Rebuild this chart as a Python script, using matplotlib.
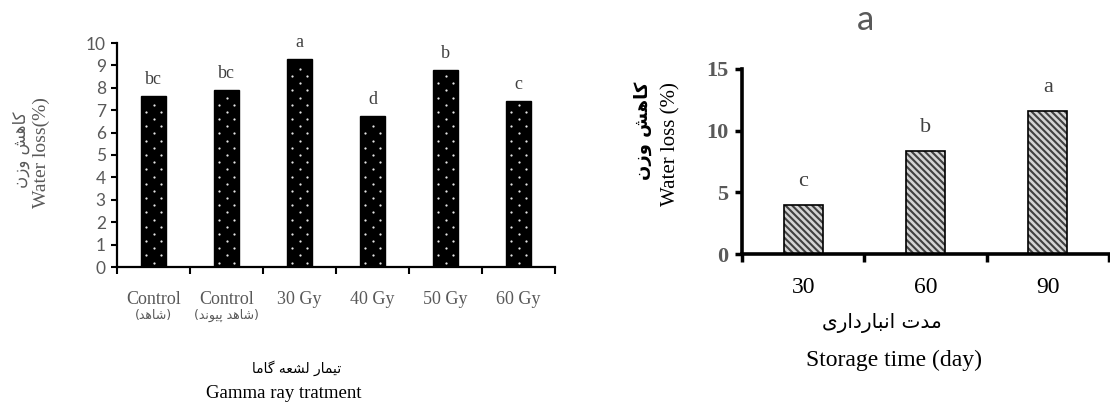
import matplotlib
matplotlib.use("Agg")
import matplotlib.pyplot as plt
import numpy as np

# --- data -------------------------------------------------------------
gamma_labels = ["Control", "Control", "30 Gy", "40 Gy", "50 Gy", "60 Gy"]
gamma_sub = ["(شاهد)", "(شاهد پیوند)", "", "", "", ""]
gamma_loss = [7.65, 7.9, 9.3, 6.75, 8.8, 7.4]
gamma_letters = ["bc", "bc", "a", "d", "b", "c"]

storage_days = ["30", "60", "90"]
storage_loss = [4.0, 8.35, 11.6]
storage_letters = ["c", "b", "a"]

# --- persian shaping (matplotlib has no arabic shaping) ---------------
# isolated, final, initial, medial ; None => letter does not join forward
FORMS = {
    "ا": ("\uFE8D", "\uFE8E", None, None),
    "ب": ("\uFE8F", "\uFE90", "\uFE91", "\uFE92"),
    "پ": ("\uFB56", "\uFB57", "\uFB58", "\uFB59"),
    "ت": ("\uFE95", "\uFE96", "\uFE97", "\uFE98"),
    "د": ("\uFEA9", "\uFEAA", None, None),
    "ر": ("\uFEAD", "\uFEAE", None, None),
    "ز": ("\uFEAF", "\uFEB0", None, None),
    "ش": ("\uFEB5", "\uFEB6", "\uFEB7", "\uFEB8"),
    "ع": ("\uFEC9", "\uFECA", "\uFECB", "\uFECC"),
    "ک": ("\uFB8E", "\uFB8F", "\uFB90", "\uFB91"),
    "گ": ("\uFB92", "\uFB93", "\uFB94", "\uFB95"),
    "ل": ("\uFEDD", "\uFEDE", "\uFEDF", "\uFEE0"),
    "م": ("\uFEE1", "\uFEE2", "\uFEE3", "\uFEE4"),
    "ن": ("\uFEE5", "\uFEE6", "\uFEE7", "\uFEE8"),
    "ه": ("\uFEE9", "\uFEEA", "\uFEEB", "\uFEEC"),
    "و": ("\uFEED", "\uFEEE", None, None),
    "ی": ("\uFBFC", "\uFBFD", "\uFBFE", "\uFBFF"),
}
MIRROR = {"(": ")", ")": "("}


def fa(text):
    out = []
    for i, ch in enumerate(text):
        if ch not in FORMS:
            out.append(MIRROR.get(ch, ch))
            continue
        prev = text[i - 1] if i > 0 else ""
        nxt = text[i + 1] if i + 1 < len(text) else ""
        jp = prev in FORMS and FORMS[prev][2] is not None
        jn = nxt in FORMS and FORMS[ch][2] is not None
        iso, fin, ini, med = FORMS[ch]
        if jp and jn:
            out.append(med)
        elif jp:
            out.append(fin)
        elif jn:
            out.append(ini)
        else:
            out.append(iso)
    return "".join(reversed(out))


SERIF = ["Liberation Serif", "DejaVu Sans"]
SANS = ["Lato", "DejaVu Sans"]
FA = ["DejaVu Sans"]
GRAY = "#595959"

W, H = 1110, 409
fig = plt.figure(figsize=(W / 100, H / 100), dpi=100)


def px(x, y):
    return x / W, 1 - y / H


# --- left panel: gamma ray treatment ---------------------------------
ax1 = fig.add_axes([117 / W, 1 - 267 / H, 438 / W, 224 / H])
x1 = list(range(len(gamma_loss)))
bw1 = 0.33
ax1.bar(x1, gamma_loss, width=bw1, color="black", edgecolor="black",
        linewidth=1)

# white dot texture inside each bar (staggered rows)
for xi, v in zip(x1, gamma_loss):
    rows = np.arange(0.2, v - 0.15, 0.32)[::-1]
    dx, dy = [], []
    for k, yy in enumerate(rows):
        offs = [0.0] if k % 2 == 0 else [-0.3 * bw1, 0.3 * bw1]
        for o in offs:
            dx.append(xi + o)
            dy.append(yy)
    ax1.scatter(dx, dy, s=2.6, color="#e6e6e6", linewidths=0, zorder=3)

for xi, v, t in zip(x1, gamma_loss, gamma_letters):
    ax1.text(xi, v + 0.35, t, ha="center", va="bottom", family=SERIF,
             fontsize=13, color="#404040")

ax1.set_xlim(-0.5, len(gamma_loss) - 0.5)
ax1.set_ylim(0, 10)
ax1.set_yticks(range(0, 11))
ax1.set_xticks([i - 0.5 for i in range(len(gamma_loss) + 1)])
ax1.set_xticklabels([])
ax1.tick_params(axis="y", labelsize=12.5, labelcolor=GRAY, length=4,
                width=1.5, pad=4, direction="out")
ax1.tick_params(axis="x", length=5, width=1.5, direction="out")
for lab in ax1.get_yticklabels():
    lab.set_family(SANS)
for s in ["top", "right"]:
    ax1.spines[s].set_visible(False)
for s in ["left", "bottom"]:
    ax1.spines[s].set_linewidth(1.6)

for xi, lab, sub in zip(x1, gamma_labels, gamma_sub):
    ax1.text(xi, -1.45, lab, ha="center", va="center", family=SERIF,
             fontsize=13, color=GRAY)
    if sub:
        inner = fa(sub.strip("()"))
        ax1.text(xi, -2.15, "(" + inner + ")", ha="center", va="center",
                 family=FA, fontsize=9, color=GRAY)

fig.text(*px(297, 368), fa("تیمار لشعه گاما"), ha="center", va="center",
         family=FA, fontsize=10, color="black")
fig.text(*px(284, 393), "Gamma ray tratment", ha="center", va="center",
         family=SERIF, fontsize=13.5, color="black")
fig.text(*px(21, 150), fa("کاهش وزن"), ha="center", va="center", rotation=90,
         family=FA, fontsize=12, color=GRAY)
fig.text(*px(41, 153), "Water loss(%)", ha="center", va="center", rotation=90,
         family=SERIF, fontsize=14, color=GRAY)

# --- right panel: storage time ---------------------------------------
ax2 = fig.add_axes([742 / W, 1 - 254 / H, 367 / W, 185 / H])
x2 = list(range(len(storage_loss)))
plt.rcParams["hatch.linewidth"] = 1.5
ax2.bar(x2, storage_loss, width=0.32, color="#d4d4d4", edgecolor="#404040",
        hatch="\\" * 5, linewidth=0)
ax2.bar(x2, storage_loss, width=0.32, fill=False, edgecolor="black",
        linewidth=1.2)
for xi, v, t in zip(x2, storage_loss, storage_letters):
    ax2.text(xi, v + 1.1, t, ha="center", va="bottom", family=SERIF,
             fontsize=16, color="#404040")

ax2.set_xlim(-0.5, len(storage_loss) - 0.5)
ax2.set_ylim(0, 15)
ax2.set_yticks([0, 5, 10, 15])
ax2.set_xticks([i - 0.5 for i in range(len(storage_loss) + 1)])
ax2.set_xticklabels([])
ax2.tick_params(axis="y", labelsize=16, labelcolor=GRAY, length=5, width=2.5,
                pad=5, direction="out")
ax2.tick_params(axis="x", length=6, width=2.5, direction="out")
for lab in ax2.get_yticklabels():
    lab.set_family(SERIF)
    lab.set_fontweight("bold")
for s in ["top", "right"]:
    ax2.spines[s].set_visible(False)
for s in ["left", "bottom"]:
    ax2.spines[s].set_linewidth(2.6)

for xi, lab in zip(x2, storage_days):
    ax2.text(xi, -2.7, lab, ha="center", va="center", family=SERIF,
             fontsize=17, color="black")

fig.text(*px(882, 323), fa("مدت انبارداری"), ha="center", va="center",
         family=FA, fontsize=14.5, color="black")
fig.text(*px(894, 360), "Storage time (day)", ha="center", va="center",
         family=SERIF, fontsize=17, color="black")
fig.text(*px(643, 131), fa("کاهش وزن"), ha="center", va="center", rotation=90,
         family=FA, fontsize=13, fontweight="bold", color="black")
fig.text(*px(671, 144), "Water loss (%)", ha="center", va="center",
         rotation=90, family=SERIF, fontsize=15, color="black")
fig.text(*px(865, 20), "a", ha="center", va="center", family=SANS,
         fontsize=25, color=GRAY)

fig.savefig("out.png", dpi=100)
